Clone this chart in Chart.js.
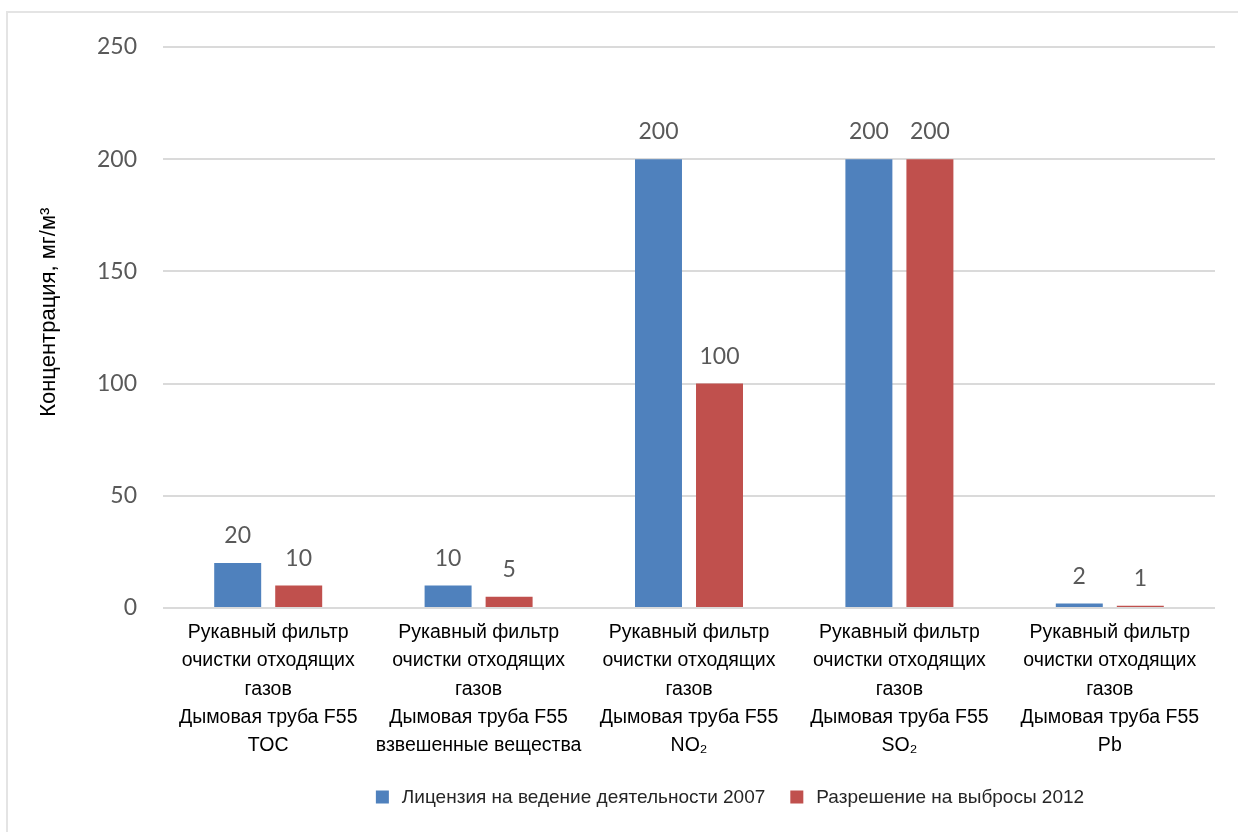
<!DOCTYPE html>
<html lang="ru">
<head>
<meta charset="utf-8">
<title>Концентрация, мг/м³</title>
<script src="https://cdn.jsdelivr.net/npm/chart.js@4/dist/chart.umd.min.js"></script>
<style>
    html, body {
        margin: 0;
        padding: 0;
        background: #ffffff;
        overflow: hidden;
    }

    #wrap {
        position: relative;
        width: 1238px;
        height: 832px;
    }

    #frame {
        position: absolute;
        left: 6px;
        top: 11px;
        width: 1300px;
        height: 900px;
        border-left: 2px solid #e4e4e4;
        border-top: 2px solid #e4e4e4;
        pointer-events: none;
    }

    #emissionChart {
        position: absolute;
        left: 0;
        top: 0;
    }
</style>
</head>
<body>
<div id="wrap">
    <canvas id="emissionChart" width="1238" height="832"></canvas>
    <div id="frame"></div>
</div>

<script>

// источник и вещество для каждой группы столбцов
const sourceLines = [
    "Рукавный фильтр",
    "очистки отходящих",
    "газов",
    "Дымовая труба F55"
];

const substances = ["TOC", "взвешенные вещества", "NO₂", "SO₂", "Pb"];

const license2007 = [20, 10, 200, 200, 2];
const permit2012 = [10, 5, 100, 200, 1];

const seriesNames = [
    "Лицензия на ведение деятельности 2007",
    "Разрешение на выбросы 2012"
];

const yTicks = [0, 50, 100, 150, 200, 250];


const categoryLabels = substances.map(function (s) {
    return sourceLines.concat([s]);
});


// подписи значений над столбцами
const valueLabels = {
    id: "valueLabels",
    afterDatasetsDraw: function (chart) {
        const ctx = chart.ctx;
        ctx.save();
        ctx.font = "23px Lato";
        ctx.fillStyle = "#595959";
        ctx.textAlign = "center";
        ctx.textBaseline = "alphabetic";

        chart.data.datasets.forEach(function (ds, i) {
            chart.getDatasetMeta(i).data.forEach(function (bar, j) {
                ctx.fillText(String(ds.data[j]), bar.x, bar.y - 20);
            });
        });

        ctx.restore();
    }
};


// легенда внизу, по центру под подписями
const bottomLegend = {
    id: "bottomLegend",
    afterDraw: function (chart) {
        const ctx = chart.ctx;
        const box = 13;
        const gap = 13;
        const itemGap = 25;
        const centerX = 730;
        const y = 797;

        ctx.save();
        ctx.font = "19px 'Liberation Sans'";
        ctx.textBaseline = "middle";
        ctx.textAlign = "left";

        const items = chart.data.datasets.map(function (ds) {
            return {
                text: ds.label,
                color: ds.backgroundColor,
                w: ctx.measureText(ds.label).width
            };
        });

        let total = 0;
        items.forEach(function (it, i) {
            total += box + gap + it.w;
            if (i > 0) total += itemGap;
        });

        let x = centerX - total / 2;
        items.forEach(function (it) {
            ctx.fillStyle = it.color;
            ctx.fillRect(x, y - box / 2, box, box);
            x += box + gap;
            ctx.fillStyle = "#262626";
            ctx.fillText(it.text, x, y + 1);
            x += it.w + itemGap;
        });

        ctx.restore();
    }
};


new Chart(
    document.getElementById("emissionChart"),
    {
        type: "bar",

        data: {
            labels: categoryLabels,

            datasets: [
                {
                    label: seriesNames[0],
                    data: license2007,
                    backgroundColor: "#4f81bd",
                    categoryPercentage: 0.58,
                    barPercentage: 0.77
                },
                {
                    label: seriesNames[1],
                    data: permit2012,
                    backgroundColor: "#c0504d",
                    categoryPercentage: 0.58,
                    barPercentage: 0.77
                }
            ]
        },

        options: {
            responsive: false,
            animation: false,

            layout: {
                padding: { left: 33, right: 23, top: 47, bottom: 64 }
            },

            plugins: {
                legend: { display: false },
                tooltip: { enabled: false }
            },

            scales: {
                x: {
                    grid: { display: false, drawTicks: false },
                    border: { display: false },
                    afterFit: function (scale) {
                        scale.height = 160;
                    },
                    ticks: {
                        autoSkip: false,
                        maxRotation: 0,
                        padding: 10,
                        color: "#000000",
                        font: {
                            family: "'Liberation Sans'",
                            size: 19.5,
                            lineHeight: 1.46
                        }
                    }
                },
                y: {
                    min: 0,
                    max: 250,
                    afterBuildTicks: function (scale) {
                        scale.ticks = yTicks.map(function (v) {
                            return { value: v };
                        });
                    },
                    afterFit: function (scale) {
                        scale.width = 130;
                    },
                    border: { display: false },
                    grid: {
                        color: "#dadada",
                        lineWidth: 2,
                        drawTicks: false
                    },
                    ticks: {
                        padding: 26,
                        color: "#595959",
                        font: { family: "Lato", size: 23 }
                    },
                    title: {
                        display: true,
                        // неразрывные пробелы в начале сдвигают подпись чуть выше центра оси
                        text: "\u00a0\u00a0\u00a0\u00a0\u00a0Концентрация, мг/м³",
                        color: "#000000",
                        padding: { top: 3, bottom: 4 },
                        font: { family: "'Liberation Sans'", size: 22 }
                    }
                }
            }
        },

        plugins: [valueLabels, bottomLegend]
    }
);

</script>
</body>
</html>
